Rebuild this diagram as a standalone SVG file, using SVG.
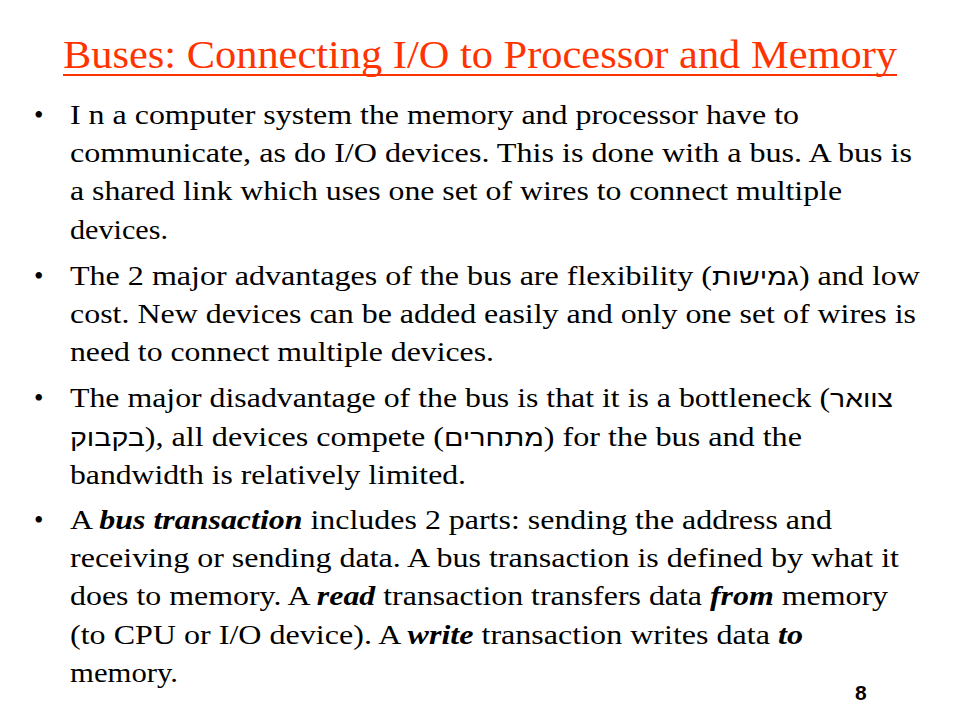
<svg xmlns="http://www.w3.org/2000/svg" width="960" height="720" viewBox="0 0 960 720">
<style>
.title{font-family:"Liberation Serif","Times New Roman",serif;font-size:41px;fill:#FF3300}
.body{font-family:"Liberation Serif","Times New Roman",serif;font-size:27px;fill:#000}
.heb{font-family:"Liberation Sans","DejaVu Sans",sans-serif;font-size:24px}
.bi{font-weight:bold;font-style:italic}
.num{font-family:"Liberation Sans",Arial,sans-serif;font-size:21px;font-weight:bold;fill:#000}
</style>
<rect width="960" height="720" fill="#fff"/>
<g id="title">
<text class="title" x="63" y="68" textLength="834" lengthAdjust="spacingAndGlyphs">Buses: Connecting I/O to Processor and Memory</text>
<line x1="63" y1="75" x2="897" y2="75" stroke="#FF3300" stroke-width="2"/>
</g>
<g id="bullet1" class="body">
<text x="34" y="123.5">•</text>
<text x="70" y="123.5" textLength="729" lengthAdjust="spacingAndGlyphs">I n a computer system the memory and processor have to</text>
<text x="70" y="162" textLength="842" lengthAdjust="spacingAndGlyphs">communicate, as do I/O devices. This is done with a bus. A bus is</text>
<text x="70" y="200" textLength="772" lengthAdjust="spacingAndGlyphs">a shared link which uses one set of wires to connect multiple</text>
<text x="70" y="238.5" textLength="98" lengthAdjust="spacingAndGlyphs">devices.</text>
</g>
<g id="bullet2" class="body">
<text x="34" y="284.5">•</text>
<text x="70" y="284.5" textLength="850" lengthAdjust="spacingAndGlyphs">The 2 major advantages of the bus are flexibility (<tspan class="heb">גמישות</tspan>) and low</text>
<text x="70" y="323" textLength="846" lengthAdjust="spacingAndGlyphs">cost. New devices can be added easily and only one set of wires is</text>
<text x="70" y="361" textLength="424" lengthAdjust="spacingAndGlyphs">need to connect multiple devices.</text>
</g>
<g id="bullet3" class="body">
<text x="34" y="407">•</text>
<text x="70" y="407" textLength="823" lengthAdjust="spacingAndGlyphs">The major disadvantage of the bus is that it is a bottleneck (<tspan class="heb">צוואר</tspan></text>
<text x="70" y="445.5" textLength="732" lengthAdjust="spacingAndGlyphs"><tspan class="heb">בקבוק</tspan>), all devices compete (<tspan class="heb">מתחרים</tspan>) for the bus and the</text>
<text x="70" y="484" textLength="396" lengthAdjust="spacingAndGlyphs">bandwidth is relatively limited.</text>
</g>
<g id="bullet4" class="body">
<text x="34" y="528.5">•</text>
<text x="70" y="528.5" textLength="762" lengthAdjust="spacingAndGlyphs">A <tspan class="bi">bus transaction</tspan> includes 2 parts: sending the address and</text>
<text x="70" y="567" textLength="829" lengthAdjust="spacingAndGlyphs">receiving or sending data. A bus transaction is defined by what it</text>
<text x="70" y="605" textLength="818" lengthAdjust="spacingAndGlyphs">does to memory.  A <tspan class="bi">read</tspan> transaction transfers data <tspan class="bi">from</tspan> memory</text>
<text x="70" y="643.5" textLength="733" lengthAdjust="spacingAndGlyphs">(to CPU or I/O device). A <tspan class="bi">write</tspan> transaction writes data <tspan class="bi">to</tspan></text>
<text x="70" y="682" textLength="108" lengthAdjust="spacingAndGlyphs">memory.</text>
</g>
<g id="page-number">
<text class="num" x="855" y="700">8</text>
</g>
</svg>
